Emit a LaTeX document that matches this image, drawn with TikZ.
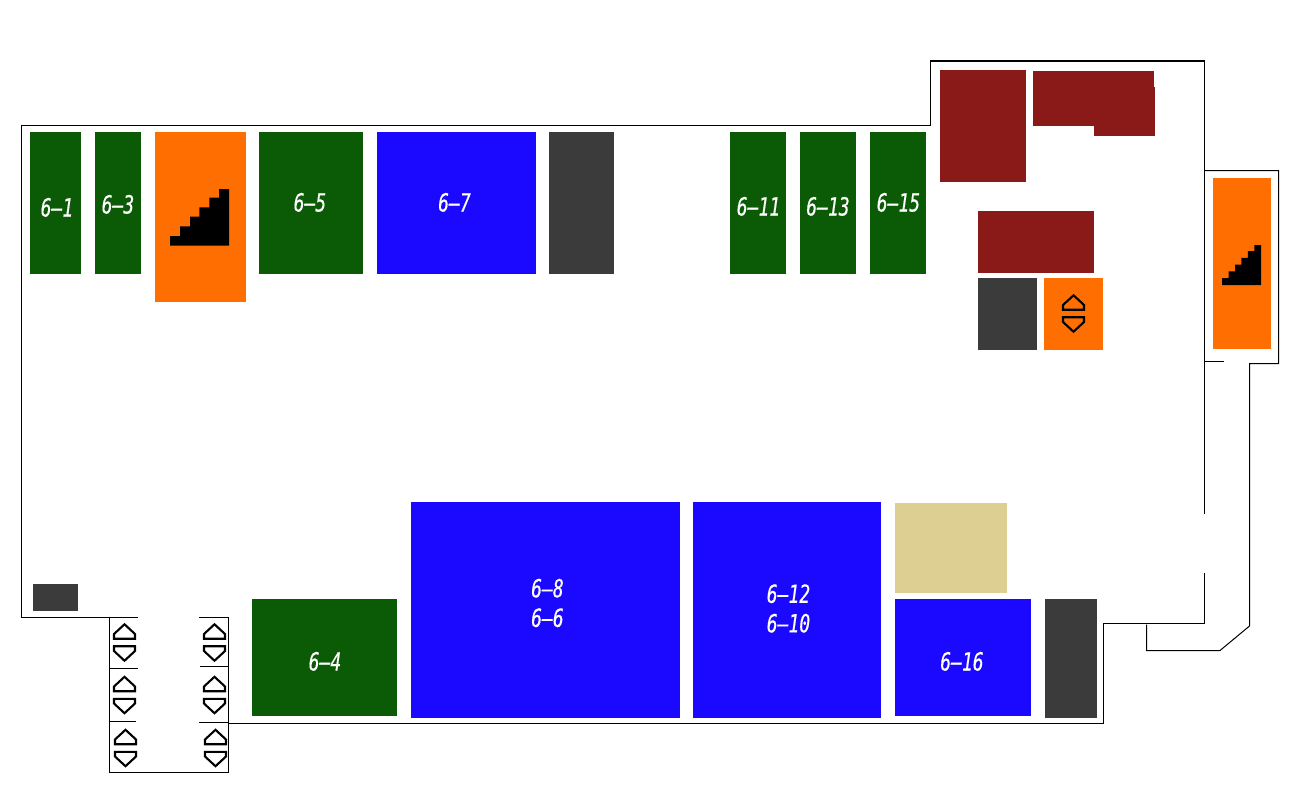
\documentclass[tikz,border=0pt]{standalone}
\usepackage{fontspec}
\newfontfamily\roomfont[FakeStretch=0.72, FakeBold=0.35]{DejaVu Sans Mono}
\definecolor{roomgreen}{HTML}{0B5A05}
\definecolor{roomblue}{HTML}{1B08FF}
\definecolor{roomorange}{HTML}{FF6E00}
\definecolor{roomgray}{HTML}{3B3B3B}
\definecolor{roomred}{HTML}{891A18}
\definecolor{roomtan}{HTML}{DDCF91}
\tikzstyle{wall} = [draw=black, line width=1pt, line cap=rect]
\tikzstyle{shop} = [fill=roomgreen]
\tikzstyle{hall} = [fill=roomblue]
\tikzstyle{core} = [fill=roomorange]
\tikzstyle{service} = [fill=roomgray]
\tikzstyle{office} = [fill=roomred]
\tikzstyle{spare} = [fill=roomtan]
\tikzstyle{roomlabel} = [text=white, align=center, inner sep=0pt, font=\roomfont\itshape\fontsize{25}{29.5}\selectfont]
\tikzset{
  lift/.pic={
    \draw[line width=2.1pt, line join=miter] (-10.5,-3.8) -- (-10.5,-8.5) -- (0,-18.2) -- (10.5,-8.5) -- (10.5,-3.8) -- cycle;
    \draw[line width=2.1pt, line join=miter] (-10.5,3.8) -- (-10.5,8.5) -- (0,18.2) -- (10.5,8.5) -- (10.5,3.8) -- cycle;
    \draw[line width=1.2pt] (-11.5,-3.4) -- (11.5,-3.4) (-11.5,3.4) -- (11.5,3.4);
  },
  stairs/.pic={
    \fill[black] (0,0) -- (-59,0) -- (-59,-9.7) -- (-49,-9.7) -- (-49,-19.4) -- (-39,-19.4) -- (-39,-29) -- (-29.7,-29) -- (-29.7,-38.4) -- (-19.7,-38.4) -- (-19.7,-48) -- (-10,-48) -- (-10,-56.7) -- (0,-56.7) -- cycle;
  }
}
\begin{document}
\begin{tikzpicture}[x=1pt, y=-1pt]
\useasboundingbox (0,0) rectangle (1300,800);

% Walls
\draw[wall] (109.5,617) -- (21.5,617) -- (21.5,125.5) -- (930.5,125.5) -- (930.5,61) -- (1204.5,61) -- (1204.5,513.5);
\draw[wall] (1204.5,573) -- (1204.5,623.5) -- (1103.5,623.5) -- (1103.5,723) -- (228.5,723);
\draw[draw=black, line width=2pt] (930.5,61) -- (1204.5,61);

% Annex
\draw[wall] (1204.5,170.5) -- (1278.5,170.5) -- (1278.5,363.5) -- (1249.5,363.5) -- (1249.5,626) -- (1220,650.5) -- (1146.5,650.5) -- (1146.5,625);
\draw[wall] (1204.5,361) -- (1223.5,361);

% Lift shaft
\draw[wall] (137.5,617) -- (109.5,617) -- (109.5,772.5) -- (228.5,772.5) -- (228.5,617) -- (199.5,617);
\draw[wall] (109.5,668) -- (137.5,668);
\draw[wall] (109.5,721) -- (135.5,721);
\draw[wall] (200,666) -- (228.5,666);
\draw[wall] (199.5,722.5) -- (228.5,722.5);

% Top row
\fill[shop] (30,132) rectangle (81,274);
\fill[shop] (95,132) rectangle (141,274);
\fill[core] (155,132) rectangle (246,302);
\fill[shop] (259,132) rectangle (363,274);
\fill[hall] (377,132) rectangle (536,274);
\fill[service] (549,132) rectangle (614,274);
\fill[shop] (730,132) rectangle (786,274);
\fill[shop] (800,132) rectangle (856,274);
\fill[shop] (870,132) rectangle (926,274);

% North-east corner
\fill[office] (940,70) rectangle (1026,182);
\fill[office] (1033,71) rectangle (1154,126);
\fill[office] (1094,87) rectangle (1155,136);
\fill[office] (978,211) rectangle (1094,273);
\fill[service] (978,278) rectangle (1037,350);
\fill[core] (1044,278) rectangle (1103,350);
\fill[core] (1213,178) rectangle (1271,349);

% Bottom row
\fill[service] (33,584) rectangle (78,611);
\fill[shop] (252,599) rectangle (397,716);
\fill[hall] (411,502) rectangle (680,718);
\fill[hall] (693,502) rectangle (881,718);
\fill[spare] (895,503) rectangle (1007,593);
\fill[hall] (895,599) rectangle (1031,716);
\fill[service] (1045,599) rectangle (1097,718);

% Labels
\node (r1) [roomlabel] at (57,207.4) {6–1};
\node (r3) [roomlabel] at (118,204.4) {6–3};
\node (r5) [roomlabel] at (310,202.4) {6–5};
\node (r7) [roomlabel] at (454.5,202.4) {6–7};
\node (r11) [roomlabel] at (758.5,206.4) {6–11};
\node (r13) [roomlabel] at (828,206.4) {6–13};
\node (r15) [roomlabel] at (898.5,202.4) {6–15};
\node (r4) [roomlabel] at (325,661.4) {6–4};
\node (r86) [roomlabel] at (547.5,603) {6–8\\6–6};
\node (r1210) [roomlabel] at (788.5,608.5) {6–12\\6–10};
\node (r16) [roomlabel] at (962,661.4) {6–16};

% Stairs and lifts
\pic at (229,245.7) {stairs};
\pic[xscale=0.661, yscale=0.705] at (1261,285) {stairs};
\pic at (1073.5,313.5) {lift};
\pic at (124.5,642.5) {lift};
\pic at (124.5,695) {lift};
\pic at (125.5,748) {lift};
\pic at (214.5,642.5) {lift};
\pic at (214.5,695) {lift};
\pic at (215.5,748) {lift};

\end{tikzpicture}
\end{document}
